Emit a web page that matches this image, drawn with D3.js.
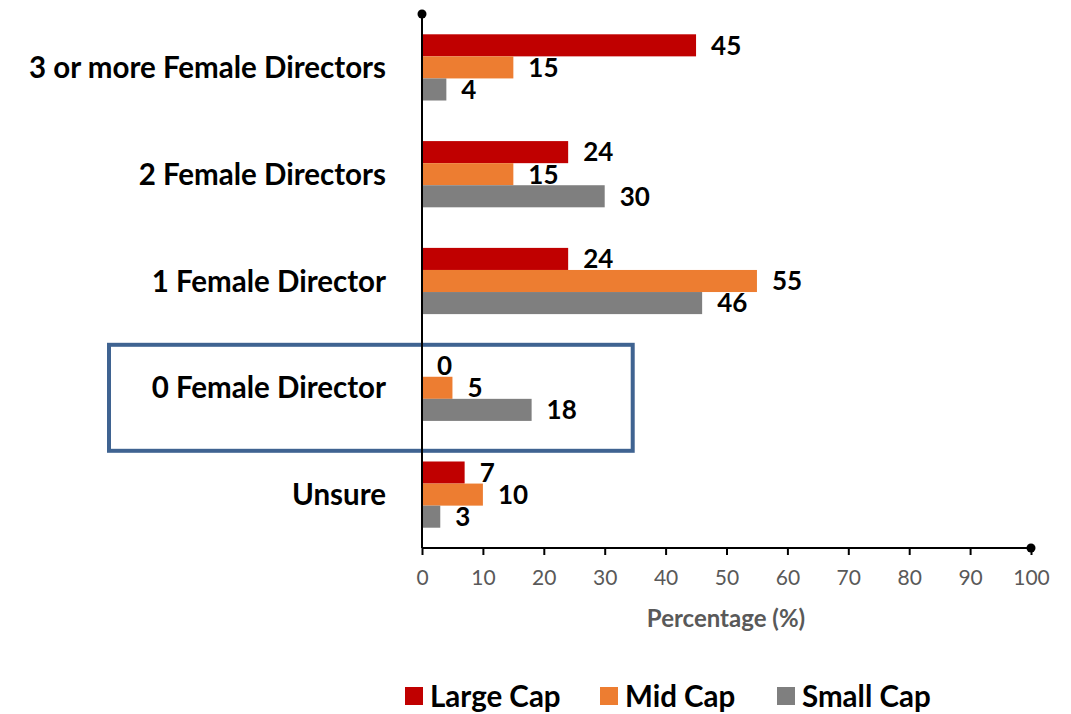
<!DOCTYPE html>
<html>
<head>
<meta charset="utf-8">
<script src="https://cdn.jsdelivr.net/npm/d3@7"></script>
<style>
  body { margin: 0; background: #fff; }
  svg { font-family: Lato, "Open Sans", sans-serif; }
</style>
</head>
<body>
<svg id="chart"></svg>
<script>
// data
var categories = ["3 or more Female Directors", "2 Female Directors", "1 Female Director", "0 Female Director", "Unsure"];
var seriesNames = ["Large Cap", "Mid Cap", "Small Cap"];
var largeCap = [45, 24, 24, 0, 7];
var midCap = [15, 15, 55, 5, 10];
var smallCap = [4, 30, 46, 18, 3];
var xTicks = [0, 10, 20, 30, 40, 50, 60, 70, 80, 90, 100];
var colors = ["#C00000", "#ED7D31", "#7F7F7F"];

var rows = categories.map(function(c, i){
  return {cat: c, vals: [largeCap[i], midCap[i], smallCap[i]]};
});

var width = 1071, height = 714;
var margin = {left: 422, right: 40, top: 14, bottom: 166};
var axisY = height - margin.bottom;

var svg = d3.select("#chart").attr("width", width).attr("height", height);

var x = d3.scaleLinear().domain([0, 100]).range([margin.left, width - margin.right]);
var y = d3.scaleBand().domain(categories)
          .range([margin.top, axisY])
          .paddingInner(0.38).paddingOuter(0.19);
var ySub = d3.scaleBand().domain(seriesNames).range([0, y.bandwidth()]);

// highlight box round the "0 Female Director" group
var boxCat = categories[3];
svg.append("rect")
   .attr("x", 109)
   .attr("y", y(boxCat) + y.bandwidth() / 2 - 43)
   .attr("width", x(34.6) - 109)
   .attr("height", 106)
   .attr("fill", "none")
   .attr("stroke", "#3F6391")
   .attr("stroke-width", 4);

// bars
var groups = svg.append("g").selectAll("g")
   .data(rows).enter().append("g")
   .attr("transform", function(d){ return "translate(0," + y(d.cat) + ")"; });

groups.selectAll("rect")
   .data(function(d){ return d.vals; })
   .enter().append("rect")
   .attr("x", x(0))
   .attr("y", function(d, i){ return ySub(seriesNames[i]); })
   .attr("width", function(d){ return x(d) - x(0); })
   .attr("height", ySub.bandwidth())
   .attr("fill", function(d, i){ return colors[i]; });

groups.selectAll("text")
   .data(function(d){ return d.vals; })
   .enter().append("text")
   .attr("x", function(d){ return x(d) + 15; })
   .attr("y", function(d, i){ return ySub(seriesNames[i]) + ySub.bandwidth() / 2; })
   .attr("dy", "0.36em")
   .attr("font-size", 26)
   .attr("font-weight", "bold")
   .attr("fill", "#000")
   .text(function(d){ return d; });

// category labels
svg.append("g").selectAll("text")
   .data(categories).enter().append("text")
   .attr("x", 386)
   .attr("y", function(d){ return y(d) + y.bandwidth() / 2; })
   .attr("dy", "0.36em")
   .attr("text-anchor", "end")
   .attr("font-size", 29.5)
   .attr("font-weight", "bold")
   .attr("fill", "#000")
   .text(function(d){ return d; });

// x axis
var xAxis = d3.axisBottom(x).tickValues(xTicks).tickSize(7).tickPadding(15);
var gx = svg.append("g")
   .attr("transform", "translate(0," + axisY + ")")
   .call(xAxis);
gx.select(".domain").remove();
gx.selectAll("line").attr("stroke", "#000").attr("stroke-width", 2);
gx.selectAll("text").attr("font-size", 21).attr("fill", "#595959")
   .attr("font-family", "Lato, sans-serif");

svg.append("line")
   .attr("x1", x(0)).attr("x2", x(100))
   .attr("y1", axisY).attr("y2", axisY)
   .attr("stroke", "#000").attr("stroke-width", 2);
svg.append("circle").attr("cx", x(100)).attr("cy", axisY).attr("r", 4.5).attr("fill", "#000");

// y axis line
svg.append("line")
   .attr("x1", x(0)).attr("x2", x(0))
   .attr("y1", margin.top).attr("y2", axisY)
   .attr("stroke", "#000").attr("stroke-width", 2);
svg.append("circle").attr("cx", x(0)).attr("cy", margin.top).attr("r", 4.5).attr("fill", "#000");

// axis title
svg.append("text")
   .attr("x", 726).attr("y", 627)
   .attr("text-anchor", "middle")
   .attr("font-size", 24)
   .attr("font-weight", "bold")
   .attr("fill", "#595959")
   .text("Percentage (%)");

// legend
var legendX = [405, 600, 777];
var legend = svg.append("g").selectAll("g")
   .data(seriesNames).enter().append("g")
   .attr("transform", function(d, i){ return "translate(" + legendX[i] + ",687)"; });
legend.append("rect")
   .attr("width", 18).attr("height", 18)
   .attr("fill", function(d, i){ return colors[i]; });
legend.append("text")
   .attr("x", 25).attr("y", 9).attr("dy", "0.36em")
   .attr("font-size", 29.5)
   .attr("font-weight", "bold")
   .attr("fill", "#000")
   .text(function(d){ return d; });
</script>
</body>
</html>
